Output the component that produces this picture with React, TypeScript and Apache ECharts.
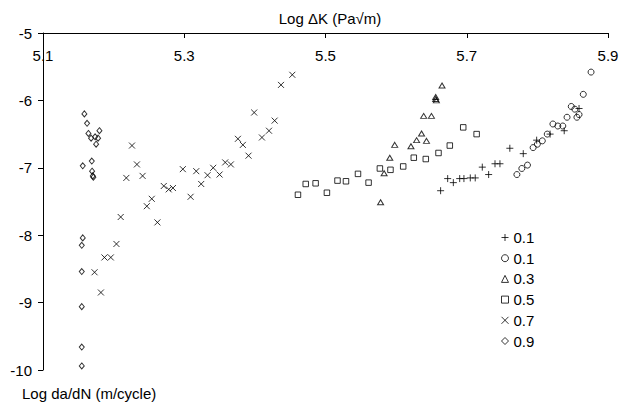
import React, { useEffect, useRef } from "react";
import * as echarts from "echarts";

// Log ΔK (x) and Log da/dN (y) per load-ratio series
const plusX = [5.663, 5.673, 5.681, 5.690, 5.696, 5.705, 5.712, 5.722, 5.731, 5.740, 5.747, 5.761, 5.780, 5.799, 5.818, 5.838, 5.859, 5.901];
const plusY = [-7.34, -7.16, -7.22, -7.16, -7.16, -7.15, -7.15, -6.99, -7.10, -6.94, -6.94, -6.71, -6.79, -6.59, -6.50, -6.45, -6.12, -5.34];

const circleX = [5.876, 5.865, 5.848, 5.853, 5.859, 5.856, 5.842, 5.822, 5.829, 5.836, 5.814, 5.807, 5.800, 5.794, 5.786, 5.778, 5.771];
const circleY = [-5.58, -5.91, -6.09, -6.13, -6.21, -6.25, -6.25, -6.35, -6.38, -6.38, -6.50, -6.60, -6.65, -6.70, -6.96, -7.01, -7.10];

const triX = [5.665, 5.656, 5.656, 5.657, 5.639, 5.650, 5.636, 5.629, 5.643, 5.598, 5.621, 5.591, 5.583, 5.578];
const triY = [-5.78, -5.95, -5.98, -6.00, -6.23, -6.23, -6.49, -6.59, -6.60, -6.66, -6.68, -6.85, -7.08, -7.51];

const squareX = [5.461, 5.472, 5.486, 5.502, 5.517, 5.529, 5.546, 5.561, 5.577, 5.592, 5.610, 5.625, 5.642, 5.660, 5.676, 5.695, 5.714];
const squareY = [-7.40, -7.24, -7.23, -7.37, -7.19, -7.20, -7.09, -7.22, -7.01, -7.03, -6.98, -6.85, -6.87, -6.78, -6.67, -6.40, -6.50];

const crossX = [5.173, 5.182, 5.187, 5.196, 5.204, 5.210, 5.218, 5.226, 5.233, 5.241, 5.247, 5.254, 5.262, 5.271, 5.278, 5.284, 5.298, 5.309, 5.317, 5.324, 5.333, 5.341, 5.350, 5.358, 5.366, 5.376, 5.383, 5.391, 5.399, 5.410, 5.420, 5.428, 5.437, 5.453];
const crossY = [-8.55, -8.85, -8.33, -8.33, -8.13, -7.73, -7.15, -6.67, -6.95, -7.12, -7.57, -7.46, -7.81, -7.27, -7.32, -7.30, -7.02, -7.43, -7.05, -7.24, -7.11, -7.00, -7.10, -6.92, -6.95, -6.57, -6.66, -6.82, -6.18, -6.55, -6.45, -6.30, -5.77, -5.62];

const diamondX = [5.1586, 5.1624, 5.1643, 5.1799, 5.1681, 5.1738, 5.178, 5.1752, 5.1691, 5.1563, 5.1695, 5.1705, 5.1713, 5.1563, 5.1549, 5.1549, 5.1549, 5.1549, 5.1549];
const diamondY = [-6.20, -6.34, -6.49, -6.45, -6.56, -6.54, -6.56, -6.65, -6.90, -6.97, -7.05, -7.12, -7.14, -8.04, -8.15, -8.54, -9.06, -9.66, -9.94];

const seriesLabels = ["0.1", "0.1", "0.3", "0.5", "0.7", "0.9"];
const xTicks = { min: 5.1, max: 5.9, interval: 0.2 };
const yTicks = { min: -10, max: -5, interval: 1 };

const FONT = "Liberation Sans, Arial, Helvetica, sans-serif";

const zip = (xs: number[], ys: number[]) => xs.map((x, i) => [x, ys[i]]);

export default function App() {
  const ref = useRef<HTMLDivElement>(null);
  useEffect(() => {
    if (!ref.current) return;
    const chart = echarts.init(ref.current, undefined, { renderer: "svg" });
    const ids = ["s0", "s1", "s2", "s3", "s4", "s5"];
    const style = { color: "rgba(0,0,0,0)", borderColor: "#000", borderWidth: 1 };
    const mk = (i: number, data: number[][], symbol: string, size: any) => ({
      type: "scatter",
      name: ids[i],
      data,
      symbol,
      symbolSize: size,
      itemStyle: style,
      emphasis: { disabled: true },
    });
    chart.setOption({
      animation: false,
      grid: { left: 43, top: 33, width: 565, height: 337, containLabel: false },
      xAxis: {
        type: "value",
        position: "top",
        min: xTicks.min,
        max: xTicks.max,
        interval: xTicks.interval,
        axisLine: { show: true, onZero: false, lineStyle: { color: "#000", width: 1 } },
        axisTick: { show: true, inside: true, length: 5, lineStyle: { color: "#000" } },
        axisLabel: {
          inside: true,
          margin: 15,
          color: "#000",
          fontSize: 15,
          fontFamily: FONT,
          formatter: (v: number) => v.toFixed(1),
        },
        splitLine: { show: false },
      },
      yAxis: {
        type: "value",
        min: yTicks.min,
        max: yTicks.max,
        interval: yTicks.interval,
        axisLine: { show: true, onZero: false, lineStyle: { color: "#000", width: 1 } },
        axisTick: { show: true, inside: false, length: 5, lineStyle: { color: "#000" } },
        axisLabel: { margin: 11, color: "#000", fontSize: 15, fontFamily: FONT },
        splitLine: { show: false },
      },
      legend: {
        orient: "vertical",
        left: 501,
        top: 230,
        padding: 0,
        itemWidth: 7,
        itemHeight: 7,
        itemGap: 5.7,
        selectedMode: false,
        itemStyle: { borderWidth: 1, borderColor: "#000", color: "rgba(0,0,0,0)" },
        textStyle: { color: "#000", fontSize: 15, fontFamily: FONT },
        formatter: (name: string) => seriesLabels[ids.indexOf(name)],
        data: ids,
      },
      graphic: [
        {
          type: "text",
          x: 330,
          y: 18,
          style: {
            text: "Log ΔK (Pa√m)",
            fill: "#000",
            font: `15px ${FONT}`,
            textAlign: "center",
            textVerticalAlign: "middle",
          },
        },
        {
          type: "text",
          x: 22,
          y: 393,
          style: {
            text: "Log da/dN (m/cycle)",
            fill: "#000",
            font: `15px ${FONT}`,
            textAlign: "left",
            textVerticalAlign: "middle",
          },
        },
      ],
      series: [
        mk(0, zip(plusX, plusY), "path://M5,0L5,10M0,5L10,5", 7),
        mk(1, zip(circleX, circleY), "circle", 6),
        mk(2, zip(triX, triY), "triangle", [6, 5]),
        mk(3, zip(squareX, squareY), "rect", 5.5),
        mk(4, zip(crossX, crossY), "path://M0,0L10,10M10,0L0,10", 6),
        mk(5, zip(diamondX, diamondY), "diamond", [5, 6]),
      ],
    });
    return () => chart.dispose();
  }, []);
  return (
    <div
      ref={ref}
      style={{ position: "fixed", left: 0, top: 0, width: 629, height: 404, background: "#fff" }}
    />
  );
}
